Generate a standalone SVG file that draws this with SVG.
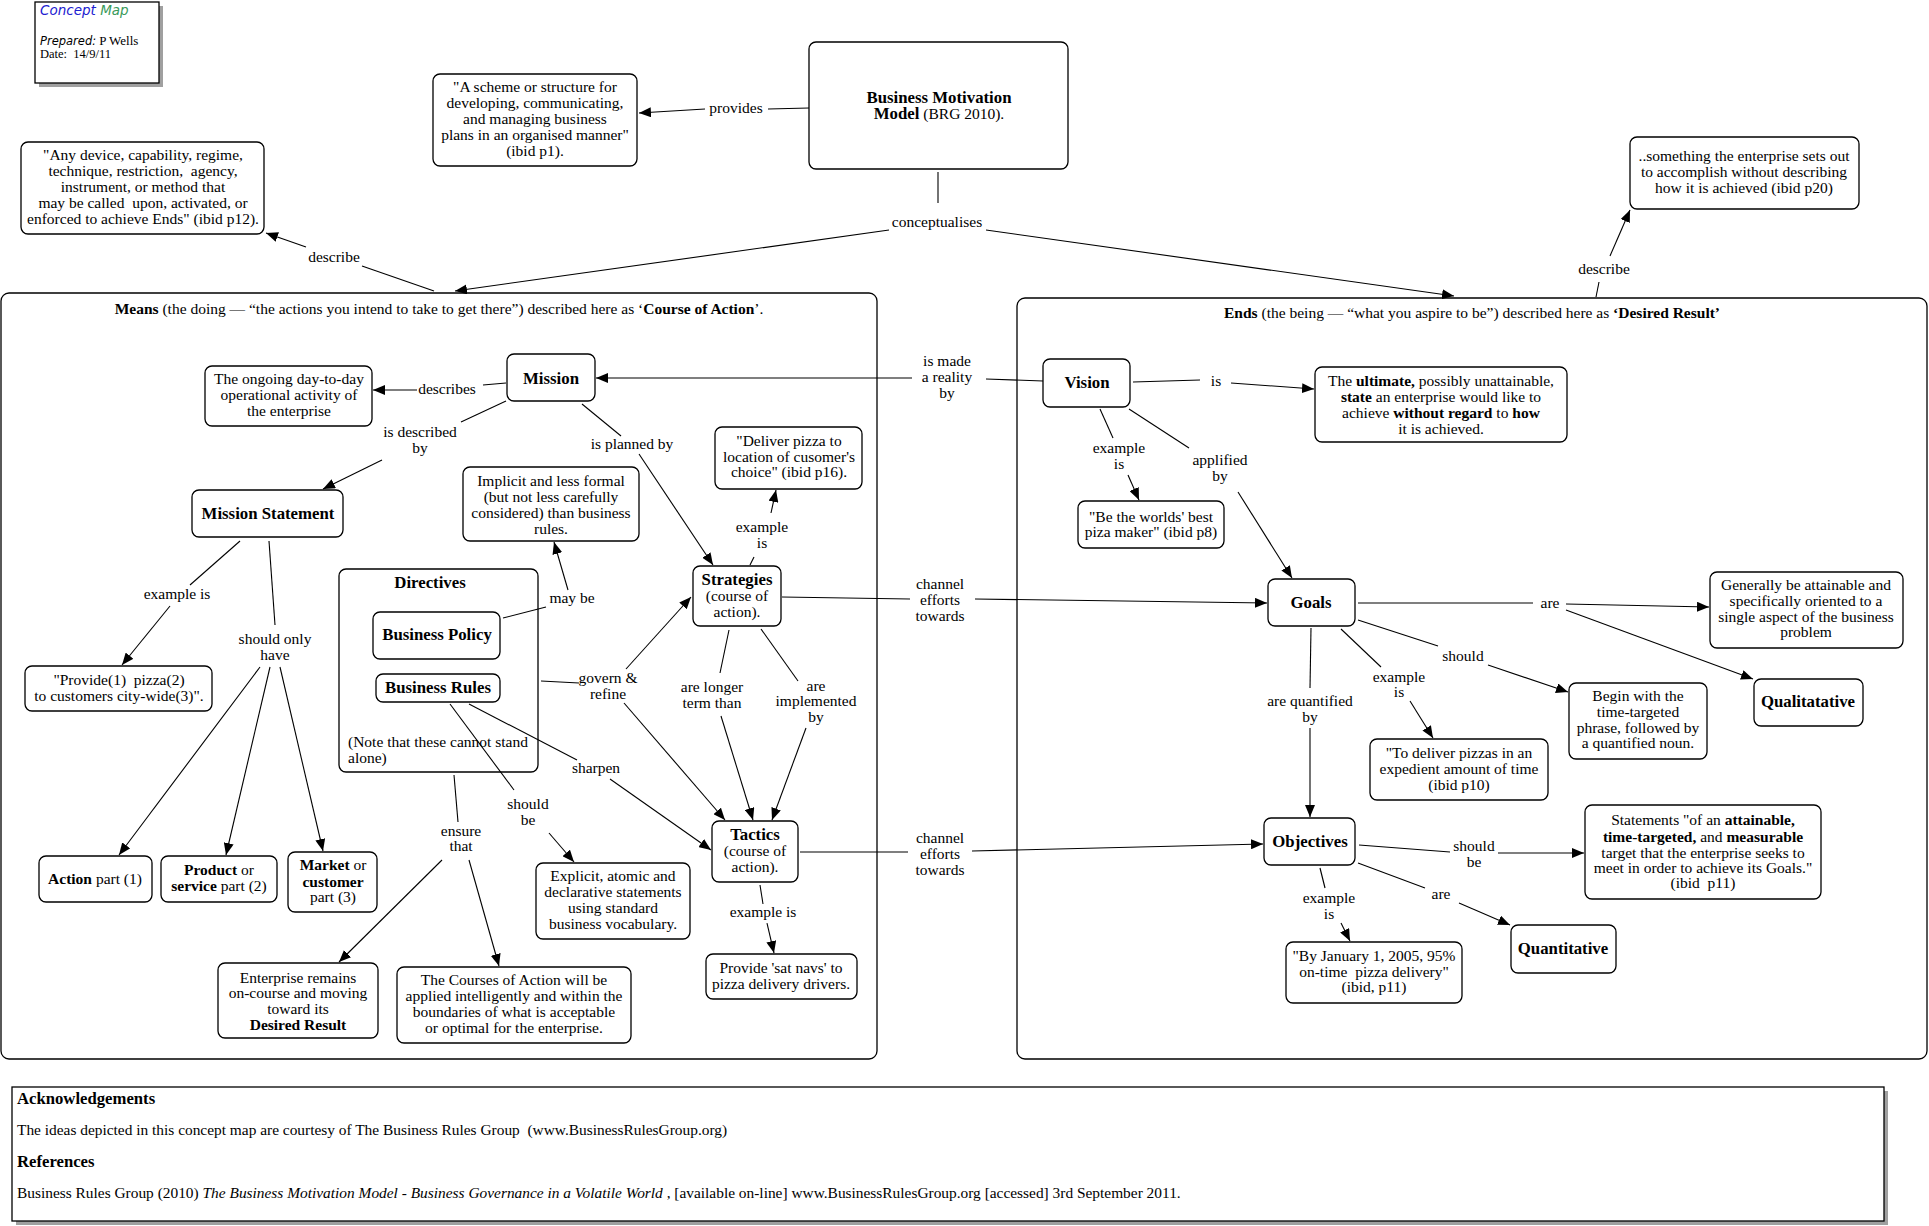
<svg xmlns="http://www.w3.org/2000/svg" width="1929" height="1226" viewBox="0 0 1929 1226">
<style>
text{font-family:"Liberation Serif","Times New Roman",serif;font-size:15.5px;fill:#000;white-space:pre}
.c{text-anchor:middle}
.b{font-weight:bold}
.h{font-weight:bold;font-size:16.8px}
.n{fill:#fff;stroke:#000;stroke-width:1.3}
.k{fill:none;stroke:#000;stroke-width:1.3}
.l{fill:none;stroke:#000;stroke-width:1.1}
.a{fill:none;stroke:#000;stroke-width:1.1;marker-end:url(#ah)}
.sh{fill:#a0a0a0}
.s{font-family:"DejaVu Sans",Verdana,sans-serif}
.f{font-size:15.4px}
.fb{font-weight:bold;font-size:16.7px}
</style>
<defs>
<marker id="ah" viewBox="0 0 12 10" refX="12" refY="5" markerWidth="12" markerHeight="10" markerUnits="userSpaceOnUse" orient="auto"><path d="M0,0 L12,5 L0,10 z" fill="#000"/></marker>
</defs>
<rect width="1929" height="1226" fill="#fff"/>

<g id="legend">
<rect class="sh" x="39" y="6" width="124" height="81"/>
<rect x="35" y="2" width="124" height="81" fill="#fff" stroke="#000" stroke-width="1.3"/>
<text x="40" y="15" class="s" style="font-size:13.5px;font-style:italic"><tspan fill="#2020d0">Concept</tspan> <tspan fill="#3a9a5a">Map</tspan></text>
<text x="40" y="45" style="font-size:13px"><tspan class="s" style="font-style:italic;font-size:11.5px">Prepared:</tspan> P Wells</text>
<text x="40" y="58" style="font-size:12.5px">Date:  14/9/11</text>
</g>

<g id="containers">
<g id="means"><rect class="k" x="1" y="293" width="876" height="766" rx="8"/>
<text class="c" x="439" y="314"><tspan class="b">Means</tspan> (the doing — “the actions you intend to take to get there”) described here as ‘<tspan class="b">Course of Action</tspan>’.</text></g>
<g id="ends"><rect class="k" x="1017" y="298" width="910" height="761" rx="8"/>
<text class="c" x="1472" y="318"><tspan class="b">Ends</tspan> (the being — “what you aspire to be”) described here as <tspan class="b">‘Desired Result’</tspan></text></g>
<g id="directives"><rect class="k" x="339" y="569" width="199" height="203" rx="7"/>
<text class="c h" x="430" y="588">Directives</text>
<text x="348" y="747">(Note that these cannot stand</text>
<text x="348" y="763">alone)</text></g>
</g>

<g id="connectors">
<line class="l" x1="809" y1="108" x2="768" y2="109"/><text class="c" x="736" y="113">provides</text><line class="a" x1="705" y1="109" x2="639" y2="113"/>
<line class="l" x1="938" y1="172" x2="938" y2="203"/><text class="c" x="937" y="227">conceptualises</text>
<line class="a" x1="889" y1="230" x2="455" y2="291"/><line class="a" x1="986" y1="230" x2="1454" y2="296"/>
<line class="l" x1="434" y1="291" x2="362" y2="266"/><text class="c" x="334" y="262">describe</text><line class="a" x1="306" y1="247" x2="266" y2="233"/>
<line class="l" x1="1596" y1="297" x2="1599" y2="282"/><text class="c" x="1604" y="274">describe</text><line class="a" x1="1610" y1="256" x2="1630" y2="210"/>
<line class="l" x1="506" y1="383" x2="483" y2="385"/><text class="c" x="447" y="394">describes</text><line class="a" x1="417" y1="390" x2="373" y2="390"/>
<line class="l" x1="506" y1="401" x2="461" y2="422"/><text class="c" x="420" y="437">is described</text><text class="c" x="420" y="453">by</text><line class="a" x1="382" y1="460" x2="323" y2="489"/>
<line class="l" x1="582" y1="404" x2="621" y2="436"/><text class="c" x="632" y="449">is planned by</text><line class="a" x1="639" y1="454" x2="713" y2="565"/>
<line class="l" x1="240" y1="541" x2="190" y2="585"/><text class="c" x="177" y="599">example is</text><line class="a" x1="170" y1="606" x2="122" y2="665"/>
<line class="l" x1="269" y1="541" x2="275" y2="625"/><text class="c" x="275" y="644">should only</text><text class="c" x="275" y="660">have</text>
<line class="a" x1="260" y1="667" x2="119" y2="855"/><line class="a" x1="270" y1="667" x2="226" y2="855"/><line class="a" x1="280" y1="667" x2="323" y2="851"/>
<line class="l" x1="503" y1="618" x2="546" y2="607"/><text class="c" x="572" y="603">may be</text><line class="a" x1="568" y1="590" x2="554" y2="542"/>
<line class="l" x1="750" y1="565" x2="754" y2="557"/><text class="c" x="762" y="532">example</text><text class="c" x="762" y="548">is</text><line class="a" x1="771" y1="513" x2="776" y2="490"/>
<line class="l" x1="541" y1="681" x2="579" y2="683"/><text class="c" x="608" y="683">govern &amp;</text><text class="c" x="608" y="699">refine</text>
<line class="a" x1="626" y1="669" x2="691" y2="597"/><line class="a" x1="624" y1="703" x2="725" y2="820"/>
<line class="l" x1="729" y1="630" x2="720" y2="673"/><text class="c" x="712" y="692">are longer</text><text class="c" x="712" y="708">term than</text><line class="a" x1="721" y1="716" x2="753" y2="820"/>
<line class="l" x1="761" y1="629" x2="798" y2="681"/><text class="c" x="816" y="691">are</text><text class="c" x="816" y="706">implemented</text><text class="c" x="816" y="722">by</text><line class="a" x1="806" y1="728" x2="772" y2="820"/>
<line class="l" x1="469" y1="704" x2="577" y2="760"/><text class="c" x="596" y="773">sharpen</text><line class="a" x1="610" y1="779" x2="711" y2="850"/>
<line class="l" x1="450" y1="704" x2="514" y2="790"/><text class="c" x="528" y="809">should</text><text class="c" x="528" y="825">be</text><line class="a" x1="549" y1="833" x2="574" y2="862"/>
<line class="l" x1="454" y1="775" x2="458" y2="822"/><text class="c" x="461" y="836">ensure</text><text class="c" x="461" y="851">that</text>
<line class="a" x1="442" y1="860" x2="339" y2="962"/><line class="a" x1="469" y1="860" x2="499" y2="966"/>
<line class="l" x1="760" y1="885" x2="763" y2="904"/><text class="c" x="763" y="917">example is</text><line class="a" x1="767" y1="923" x2="774" y2="953"/>
<line class="l" x1="1043" y1="381" x2="986" y2="379"/><text class="c" x="947" y="366">is made</text><text class="c" x="947" y="382">a reality</text><text class="c" x="947" y="398">by</text><line class="a" x1="912" y1="378" x2="596" y2="378"/>
<line class="l" x1="782" y1="597" x2="910" y2="599"/><text class="c" x="940" y="589">channel</text><text class="c" x="940" y="605">efforts</text><text class="c" x="940" y="621">towards</text><line class="a" x1="975" y1="599" x2="1267" y2="603"/>
<line class="l" x1="800" y1="852" x2="908" y2="852"/><text class="c" x="940" y="843">channel</text><text class="c" x="940" y="859">efforts</text><text class="c" x="940" y="875">towards</text><line class="a" x1="972" y1="851" x2="1263" y2="844"/>
<line class="l" x1="1133" y1="382" x2="1200" y2="380"/><text class="c" x="1216" y="386">is</text><line class="a" x1="1231" y1="383" x2="1314" y2="389"/>
<line class="l" x1="1100" y1="409" x2="1113" y2="438"/><text class="c" x="1119" y="453">example</text><text class="c" x="1119" y="469">is</text><line class="a" x1="1128" y1="475" x2="1139" y2="500"/>
<line class="l" x1="1129" y1="409" x2="1189" y2="448"/><text class="c" x="1220" y="465">applified</text><text class="c" x="1220" y="481">by</text><line class="a" x1="1238" y1="492" x2="1292" y2="578"/>
<line class="l" x1="1358" y1="603" x2="1533" y2="603"/><text class="c" x="1550" y="608">are</text><line class="a" x1="1566" y1="604" x2="1709" y2="607"/><line class="a" x1="1566" y1="610" x2="1753" y2="679"/>
<line class="l" x1="1358" y1="620" x2="1438" y2="646"/><text class="c" x="1463" y="661">should</text><line class="a" x1="1488" y1="665" x2="1568" y2="692"/>
<line class="l" x1="1341" y1="629" x2="1381" y2="667"/><text class="c" x="1399" y="682">example</text><text class="c" x="1399" y="697">is</text><line class="a" x1="1410" y1="701" x2="1433" y2="738"/>
<line class="l" x1="1311" y1="628" x2="1310" y2="688"/><text class="c" x="1310" y="706">are quantified</text><text class="c" x="1310" y="722">by</text><line class="a" x1="1310" y1="728" x2="1310" y2="817"/>
<line class="l" x1="1359" y1="845" x2="1450" y2="852"/><text class="c" x="1474" y="851">should</text><text class="c" x="1474" y="867">be</text><line class="a" x1="1498" y1="853" x2="1584" y2="853"/>
<line class="l" x1="1358" y1="863" x2="1425" y2="888"/><text class="c" x="1441" y="899">are</text><line class="a" x1="1459" y1="903" x2="1510" y2="925"/>
<line class="l" x1="1320" y1="868" x2="1325" y2="888"/><text class="c" x="1329" y="903">example</text><text class="c" x="1329" y="919">is</text><line class="a" x1="1341" y1="923" x2="1350" y2="941"/>
</g>

<g id="bmm"><rect class="n" x="809" y="42" width="259" height="127" rx="7"/>
<text class="c h" x="939" y="103">Business Motivation</text>
<text class="c" x="939" y="119"><tspan class="h">Model</tspan> (BRG 2010).</text></g>
<g id="scheme"><rect class="n" x="433" y="74" width="204" height="92" rx="7"/>
<text class="c" x="535" y="92">"A scheme or structure for</text><text class="c" x="535" y="108">developing, communicating,</text><text class="c" x="535" y="124">and managing business</text><text class="c" x="535" y="140">plans in an organised manner"</text><text class="c" x="535" y="156">(ibid p1).</text></g>
<g id="anydevice"><rect class="n" x="21" y="142" width="243" height="92" rx="7"/>
<text class="c" x="143" y="160">"Any device, capability, regime,</text><text class="c" x="143" y="176">technique, restriction,  agency,</text><text class="c" x="143" y="192">instrument, or method that</text><text class="c" x="143" y="208">may be called  upon, activated, or</text><text class="c" x="143" y="224">enforced to achieve Ends" (ibid p12).</text></g>
<g id="something"><rect class="n" x="1630" y="137" width="229" height="72" rx="7"/>
<text class="c" x="1744" y="161">..something the enterprise sets out</text><text class="c" x="1744" y="177">to accomplish without describing</text><text class="c" x="1744" y="193">how it is achieved (ibid p20)</text></g>

<g id="ongoing"><rect class="n" x="205" y="366" width="167" height="60" rx="7"/>
<text class="c" x="289" y="384">The ongoing day-to-day</text><text class="c" x="289" y="400">operational activity of</text><text class="c" x="289" y="416">the enterprise</text></g>
<g id="mission"><rect class="n" x="507" y="354" width="88" height="47" rx="7"/><text class="c h" x="551" y="384">Mission</text></g>
<g id="missionstatement"><rect class="n" x="192" y="490" width="151" height="47" rx="7"/><text class="c h" x="268" y="519">Mission Statement</text></g>
<g id="provide"><rect class="n" x="25" y="666" width="187" height="45" rx="7"/>
<text class="c" x="119" y="685">"Provide(1)  pizza(2)</text><text class="c" x="119" y="701">to customers city-wide(3)".</text></g>
<g id="action"><rect class="n" x="39" y="856" width="113" height="46" rx="7"/><text class="c" x="95" y="884"><tspan class="b">Action</tspan> part (1)</text></g>
<g id="product"><rect class="n" x="161" y="856" width="116" height="46" rx="7"/>
<text class="c" x="219" y="875"><tspan class="b">Product</tspan> or</text><text class="c" x="219" y="891"><tspan class="b">service</tspan> part (2)</text></g>
<g id="market"><rect class="n" x="288" y="852" width="89" height="60" rx="7"/>
<text class="c" x="333" y="870"><tspan class="b">Market</tspan> or</text><text class="c b" x="333" y="887">customer</text><text class="c" x="333" y="902">part (3)</text></g>
<g id="implicit"><rect class="n" x="463" y="467" width="176" height="74" rx="7"/>
<text class="c" x="551" y="486">Implicit and less formal</text><text class="c" x="551" y="502">(but not less carefully</text><text class="c" x="551" y="518">considered) than business</text><text class="c" x="551" y="534">rules.</text></g>
<g id="deliver"><rect class="n" x="715" y="427" width="147" height="62" rx="7"/>
<text class="c" x="789" y="446">"Deliver pizza to</text><text class="c" x="789" y="462">location of cusomer's</text><text class="c" x="789" y="477">choice" (ibid p16).</text></g>
<g id="strategies"><rect class="n" x="693" y="566" width="88" height="60" rx="7"/>
<text class="c h" x="737" y="585">Strategies</text><text class="c" x="737" y="601">(course of</text><text class="c" x="737" y="617">action).</text></g>
<g id="businesspolicy"><rect class="n" x="373" y="612" width="127" height="47" rx="7"/><text class="c h" x="437" y="640">Business Policy</text></g>
<g id="businessrules"><rect class="n" x="376" y="674" width="124" height="28" rx="7"/><text class="c h" x="438" y="693">Business Rules</text></g>
<g id="enterprise"><rect class="n" x="218" y="963" width="160" height="75" rx="7"/>
<text class="c" x="298" y="983">Enterprise remains</text><text class="c" x="298" y="998">on-course and moving</text><text class="c" x="298" y="1014">toward its</text><text class="c b" x="298" y="1030">Desired Result</text></g>
<g id="courses"><rect class="n" x="397" y="967" width="234" height="76" rx="7"/>
<text class="c" x="514" y="985">The Courses of Action will be</text><text class="c" x="514" y="1001">applied intelligently and within the</text><text class="c" x="514" y="1017">boundaries of what is acceptable</text><text class="c" x="514" y="1033">or optimal for the enterprise.</text></g>
<g id="explicit"><rect class="n" x="536" y="863" width="154" height="76" rx="7"/>
<text class="c" x="613" y="881">Explicit, atomic and</text><text class="c" x="613" y="897">declarative statements</text><text class="c" x="613" y="913">using standard</text><text class="c" x="613" y="929">business vocabulary.</text></g>
<g id="tactics"><rect class="n" x="712" y="821" width="86" height="61" rx="7"/>
<text class="c h" x="755" y="840">Tactics</text><text class="c" x="755" y="856">(course of</text><text class="c" x="755" y="872">action).</text></g>
<g id="satnavs"><rect class="n" x="706" y="954" width="151" height="45" rx="7"/>
<text class="c" x="781" y="973">Provide 'sat navs' to</text><text class="c" x="781" y="989">pizza delivery drivers.</text></g>

<g id="vision"><rect class="n" x="1043" y="359" width="87" height="48" rx="7"/><text class="c h" x="1087" y="388">Vision</text></g>
<g id="ultimate"><rect class="n" x="1315" y="367" width="252" height="75" rx="7"/>
<text class="c" x="1441" y="386">The <tspan class="b">ultimate,</tspan> possibly unattainable,</text>
<text class="c" x="1441" y="402"><tspan class="b">state</tspan> an enterprise would like to</text>
<text class="c" x="1441" y="418">achieve <tspan class="b">without regard</tspan> to <tspan class="b">how</tspan></text>
<text class="c" x="1441" y="434">it is achieved.</text></g>
<g id="bestpiza"><rect class="n" x="1078" y="501" width="146" height="47" rx="7"/>
<text class="c" x="1151" y="522">"Be the worlds' best</text><text class="c" x="1151" y="537">piza maker" (ibid p8)</text></g>
<g id="goals"><rect class="n" x="1268" y="579" width="87" height="47" rx="7"/><text class="c h" x="1311" y="608">Goals</text></g>
<g id="generally"><rect class="n" x="1710" y="572" width="193" height="76" rx="7"/>
<text class="c" x="1806" y="590">Generally be attainable and</text><text class="c" x="1806" y="606">specifically oriented to a</text><text class="c" x="1806" y="622">single aspect of the business</text><text class="c" x="1806" y="637">problem</text></g>
<g id="qualitative"><rect class="n" x="1754" y="679" width="109" height="47" rx="7"/><text class="c h" x="1808" y="707">Qualitatative</text></g>
<g id="begin"><rect class="n" x="1569" y="683" width="138" height="76" rx="7"/>
<text class="c" x="1638" y="701">Begin with the</text><text class="c" x="1638" y="717">time-targeted</text><text class="c" x="1638" y="733">phrase, followed by</text><text class="c" x="1638" y="748">a quantified noun.</text></g>
<g id="todeliver"><rect class="n" x="1370" y="739" width="178" height="61" rx="7"/>
<text class="c" x="1459" y="758">"To deliver pizzas in an</text><text class="c" x="1459" y="774">expedient amount of time</text><text class="c" x="1459" y="790">(ibid p10)</text></g>
<g id="objectives"><rect class="n" x="1264" y="818" width="91" height="47" rx="7"/><text class="c h" x="1310" y="847">Objectives</text></g>
<g id="statements"><rect class="n" x="1585" y="805" width="236" height="94" rx="7"/>
<text class="c" x="1703" y="825">Statements "of an <tspan class="b">attainable,</tspan></text>
<text class="c" x="1703" y="842"><tspan class="b">time-targeted,</tspan> and <tspan class="b">measurable</tspan></text>
<text class="c" x="1703" y="858">target that the enterprise seeks to</text>
<text class="c" x="1703" y="873">meet in order to achieve its Goals."</text>
<text class="c" x="1703" y="888">(ibid  p11)</text></g>
<g id="quantitative"><rect class="n" x="1511" y="925" width="105" height="48" rx="7"/><text class="c h" x="1563" y="954">Quantitative</text></g>
<g id="january"><rect class="n" x="1286" y="942" width="176" height="61" rx="7"/>
<text class="c" x="1374" y="961">"By January 1, 2005, 95%</text><text class="c" x="1374" y="977">on-time  pizza delivery"</text><text class="c" x="1374" y="992">(ibid, p11)</text></g>

<g id="footer">
<rect class="sh" x="16" y="1091" width="1872" height="134"/>
<rect x="12" y="1087" width="1872" height="134" fill="#fff" stroke="#000" stroke-width="1.3"/>
<text class="fb" x="17" y="1104">Acknowledgements</text>
<text class="f" x="17" y="1135">The ideas depicted in this concept map are courtesy of The Business Rules Group  (www.BusinessRulesGroup.org)</text>
<text class="fb" x="17" y="1167">References</text>
<text class="f" x="17" y="1198">Business Rules Group (2010) <tspan font-style="italic">The Business Motivation Model - Business Governance in a Volatile World</tspan> , [available on-line] www.BusinessRulesGroup.org [accessed] 3rd September 2011.</text>
</g>
</svg>
